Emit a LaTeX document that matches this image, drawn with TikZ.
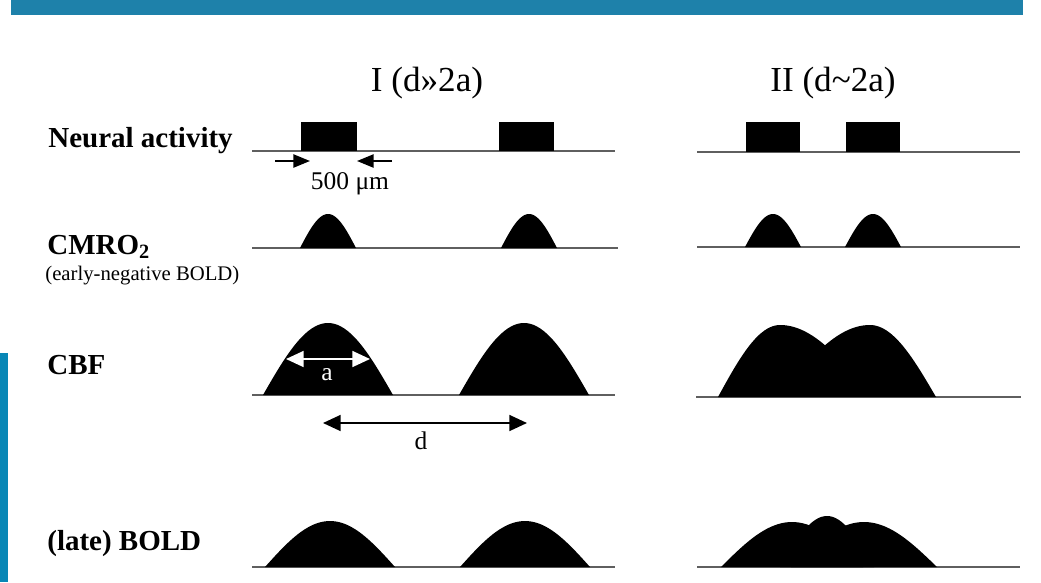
\documentclass[tikz,border=0pt]{standalone}
\usepackage{fontspec}
\setmainfont{Liberation Serif}
\usepackage{tikz}
\usetikzlibrary{arrows.meta}
\definecolor{topbar}{RGB}{30,129,170}
\definecolor{sidebar}{RGB}{8,135,182}
\definecolor{axisgray}{RGB}{95,95,95}

\newcommand{\hillfill}[4]{%
  \fill plot[domain=-#3:#3, samples=41] ({#1+\x},{#2-#4*cos(90*\x/#3)}) -- cycle;}

\begin{document}
\begin{tikzpicture}[x=0.02cm, y=-0.02cm,
  baseln/.style={line width=0.9pt, axisgray},
  rowlbl/.style={anchor=base west, inner sep=0pt, font=\fontsize{16.5}{18}\selectfont\bfseries},
  notelbl/.style={anchor=base west, inner sep=0pt, font=\fontsize{11.8}{13}\selectfont},
  titlelbl/.style={anchor=base, inner sep=0pt, font=\fontsize{20}{22}\selectfont},
  dimlbl/.style={anchor=base, inner sep=0pt, font=\fontsize{14.5}{16}\selectfont},
  pointer/.style={-{Triangle[length=9.5pt, width=7.5pt]}, line width=1.1pt},
  spanarrow/.style={{Triangle[length=10pt, width=9pt]}-{Triangle[length=10pt, width=9pt]}, line width=1.1pt}
]
\useasboundingbox (0,0) rectangle (1041,582);
\fill[topbar] (11,0) rectangle (1023,15);
\fill[sidebar] (0,353) rectangle (8,582);

\node[titlelbl] (titleI) at (427,91) {I (d»2a)};
\node[titlelbl] (titleII) at (833,91) {II (d\textasciitilde 2a)};

\node[rowlbl] (neurallbl) at (48,147) {Neural activity};
\node[rowlbl] (cmrolbl) at (47,254) {CMRO\textsubscript{2}};
\node[notelbl] (earlylbl) at (45,280) {(early-negative BOLD)};
\node[rowlbl] (cbflbl) at (47,374) {CBF};
\node[rowlbl] (boldlbl) at (47,550) {(late) BOLD};

% panel I
\draw[baseln] (252,151) -- (615,151);
\fill (301,122) rectangle (357,151);
\fill (499,122) rectangle (554,151);
\coordinate (wleft) at (275,161);
\coordinate (wlefttip) at (310,161);
\coordinate (wright) at (392,161);
\coordinate (wrighttip) at (357,161);
\draw[pointer] (wleft) -- (wlefttip);
\draw[pointer] (wright) -- (wrighttip);
\node[dimlbl] (widthlbl) at (350,189) {500 μm};

\draw[baseln] (252,248) -- (618,248);
\hillfill{328}{248}{28}{34}
\hillfill{529}{248}{28}{34}

\draw[baseln] (252,395) -- (615,395);
\hillfill{328}{395}{65}{72}
\hillfill{524}{395}{65}{72}
\coordinate (aleft) at (286,359);
\coordinate (aright) at (370,359);
\draw[spanarrow, white] (aleft) -- (aright);
\node[dimlbl, text=white] (alabel) at (327,380) {a};
\coordinate (dleft) at (323,423);
\coordinate (dright) at (527,423);
\draw[spanarrow] (dleft) -- (dright);
\node[dimlbl] (dlabel) at (421,449) {d};

\draw[baseln] (252,567) -- (615,567);
\hillfill{330}{567}{65}{46}
\hillfill{525}{567}{65}{46}

% panel II
\draw[baseln] (697,152) -- (1020,152);
\fill (746,122) rectangle (800,152);
\fill (846,122) rectangle (900,152);

\draw[baseln] (697,247) -- (1020,247);
\hillfill{773}{247}{28}{33}
\hillfill{873}{247}{28}{33}

\draw[baseln] (696,397) -- (1021,397);
\fill (718,397)
  -- plot[domain=-62:0, samples=25] ({780+\x},{397-72*cos(90*\x/62)})
  -- plot[domain=0:45, samples=20] ({780+\x},{397-72*cos(90*\x/92)})
  -- plot[domain=-45:0, samples=20] ({870+\x},{397-72*cos(90*\x/92)})
  -- plot[domain=0:66, samples=25] ({870+\x},{397-72*cos(90*\x/66)}) -- cycle;

\draw[baseln] (697,567) -- (1020,567);
\hillfill{792}{567}{71}{45}
\hillfill{827}{567}{47}{51}
\hillfill{864}{567}{73}{45}
\end{tikzpicture}
\end{document}
